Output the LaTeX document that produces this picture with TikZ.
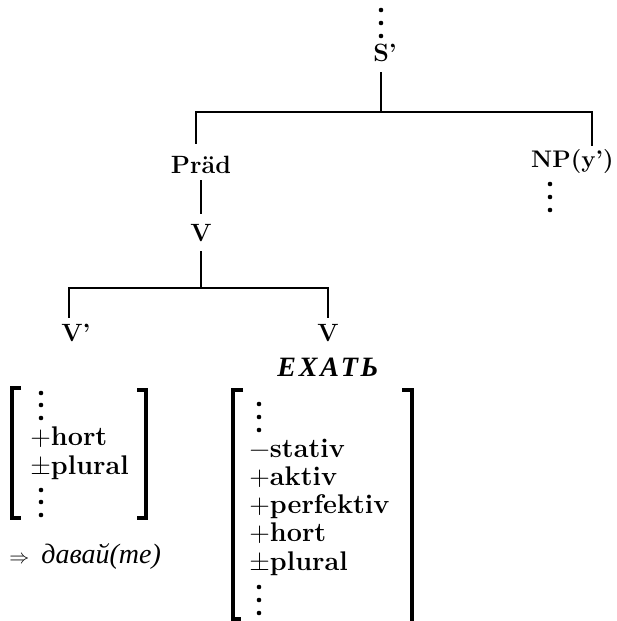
\documentclass[tikz,border=0pt]{standalone}
\usepackage{fontspec}
\usepackage{amsmath}
\usepackage{amssymb}
\newfontfamily\cyrfont{Liberation Serif}
\usetikzlibrary{positioning}

\newcommand\fplus{{\mdseries+}}
\newcommand\fpm{{\mdseries±}}
\newcommand\fminus{{\mdseries−}}

\tikzset{
  cat/.style={font=\fontsize{12.5}{14}\selectfont\bfseries, inner sep=1pt},
  featlist/.style={font=\fontsize{13.5}{14.1}\selectfont\bfseries, align=left, anchor=base west, inner sep=0pt},
  branch/.style={line width=0.7pt},
  bracket/.style={line width=1.9pt},
  vdot/.style={circle, fill, inner sep=0pt, minimum size=2.3pt},
}

\begin{document}
\begin{tikzpicture}[x=0.5pt, y=-0.5pt]
  \useasboundingbox (0,0) rectangle (616,621);

  \foreach \y in {10,23,36} \node[vdot] (top\y) at (381,\y) {};
  \node[cat] (S) at (385,53) {S'};
  \coordinate (barM) at (381,112);
  \coordinate (barL) at (196,112);
  \coordinate (barR) at (592,112);

  \node[cat] (Prad) at (201,165) {Präd};
  \node[cat, font=\fontsize{12}{14}\selectfont\bfseries, anchor=east] (NP) at (616,162) {NP(y')};
  \foreach \y in {184,197,210} \node[vdot] (np\y) at (550,\y) {};
  \node[cat, below=23pt of Prad] (V) {V};

  \coordinate (lowL) at (69,288);
  \coordinate (lowR) at (328,288);
  \node[cat] (Vbar) at (76,333) {V'};
  \node[cat] (Vlow) at (328,333) {V};
  \node[cat, below=6pt of Vlow, font=\fontsize{14}{15}\selectfont\cyrfont\bfseries\itshape\addfontfeature{LetterSpace=10}] (verb) {ЕХАТЬ};

  \draw[branch] ([yshift=-4pt]S.south -| barM) -- (barM);
  \draw[branch] ([yshift=5pt]Prad.north -| barL) |- (barR) -- ([yshift=1pt]NP.north -| barR);
  \draw[branch, shorten <=2pt, shorten >=4pt] (Prad) -- (V);
  \draw[branch] ([yshift=-3.5pt]V.south) -- (V.south |- lowL);
  \draw[branch] ([yshift=2pt]Vbar.north -| lowL) |- (lowR) -- ([yshift=2pt]Vlow.north);

  \draw[bracket] (21,388) -- (12,388) -- (12,518) -- (21,518);
  \draw[bracket] (137,390) -- (146,390) -- (146,518) -- (137,518);
  \foreach \y in {393,405,418,490,502,515} \node[vdot] (ld\y) at (41,\y) {};
  \node[featlist, font=\fontsize{13.5}{14.5}\selectfont\bfseries] (lfeat) at (30,474) {\fplus hort\\ \fpm plural};

  \node[anchor=west, inner sep=0pt, font=\fontsize{14}{15}\selectfont] (res) at (9,557)
    {{\fontsize{10}{12}\selectfont$\Rightarrow$}\hspace{6pt}{\cyrfont\itshape давай(те)}};

  \draw[bracket] (243,390) -- (233,390) -- (233,619) -- (241,619);
  \draw[bracket] (402,390) -- (412,390) -- (412,621);
  \foreach \y in {404,417,430,587,600,613} \node[vdot] (rd\y) at (259,\y) {};
  \node[featlist] (rfeat) at (249,570)
    {\fminus stativ\\ \fplus aktiv\\ \fplus perfektiv\\ \fplus hort\\ \fpm plural};
\end{tikzpicture}
\end{document}
